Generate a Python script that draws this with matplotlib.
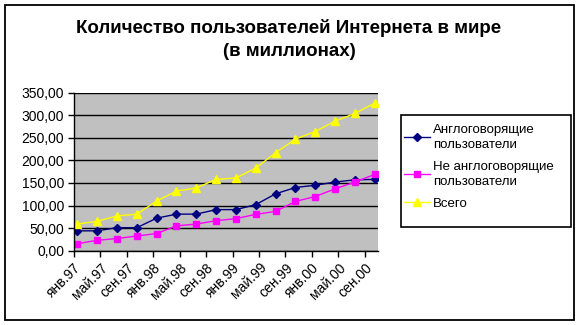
import matplotlib
matplotlib.use("Agg")
import matplotlib.pyplot as plt
from matplotlib.patches import Rectangle
from matplotlib.ticker import FuncFormatter

plt.rcParams['font.family'] = ['Liberation Sans', 'DejaVu Sans']

# quarterly observations
dates = ['1997-01', '1997-04', '1997-07', '1997-10',
         '1998-01', '1998-04', '1998-07', '1998-10',
         '1999-01', '1999-04', '1999-07', '1999-10',
         '2000-01', '2000-04', '2000-07', '2000-10']
english = [44, 44, 51, 51, 72, 81, 81, 91, 91, 102, 126, 140, 145, 152, 157, 158]
non_english = [15.5, 23, 27, 32.5, 38, 55, 59, 66.5, 71, 80.5, 87, 109, 120, 137, 152, 169]
total = [59, 65, 77, 81, 110, 132, 139, 158, 161, 183, 217, 247, 264, 287, 304, 327]

tick_dates = ['1997-01', '1997-05', '1997-09', '1998-01', '1998-05', '1998-09',
              '1999-01', '1999-05', '1999-09', '2000-01', '2000-05', '2000-09']
tick_labels = ['янв.97', 'май.97', 'сен.97', 'янв.98', 'май.98', 'сен.98',
               'янв.99', 'май.99', 'сен.99', 'янв.00', 'май.00', 'сен.00']

series_names = ['Англоговорящие\nпользователи', 'Не англоговорящие\nпользователи', 'Всего']


def month_index(d):
    # months since January 1997
    y, m = d.split('-')
    return (int(y) - 1997) * 12 + int(m) - 1


W, H = 580, 325
fig = plt.figure(figsize=(W / 100, H / 100), dpi=100)
ax = fig.add_axes([74 / W, 1 - 250.7 / H, (378 - 74) / W, (250.7 - 92.7) / H])
ax.set_facecolor('#C0C0C0')

x = [month_index(d) + 0.5 for d in dates]
ax.plot(x, english, color='#000080', marker='D', markersize=4, lw=1, label=series_names[0])
ax.plot(x, non_english, color='#FF00FF', marker='s', markersize=5, lw=1, label=series_names[1])
ax.plot(x, total, color='#FFFF00', marker='^', markersize=5.5, lw=1, label=series_names[2])

ax.set_xlim(0, 46)
ax.set_ylim(0, 350)
ax.set_yticks(range(0, 351, 50))
ax.yaxis.set_major_formatter(FuncFormatter(lambda v, p: f'{v:.2f}'.replace('.', ',')))
ax.set_xticks([month_index(d) for d in tick_dates])
ax.set_xticklabels(tick_labels, rotation=45, ha='right', va='top', rotation_mode='anchor')
ax.tick_params(axis='both', direction='out', length=4, width=1, labelsize=10, colors='black')
ax.tick_params(axis='x', pad=3)
ax.tick_params(axis='y', pad=3)

ax.grid(axis='y', color='black', lw=1)
ax.set_axisbelow(True)
for side in ['top', 'right']:
    ax.spines[side].set_visible(False)
for side in ['left', 'bottom']:
    ax.spines[side].set_linewidth(1)
    ax.spines[side].set_zorder(3)

# legend without its own frame; the box is drawn separately
leg = fig.legend(loc='upper left', bbox_to_anchor=(401 / W, 1 - 121 / H),
                 fontsize=9.5, frameon=False, handlelength=2.0, handletextpad=0.25,
                 borderpad=0, labelspacing=0.75, borderaxespad=0.2)
for t in leg.get_texts():
    t.set_linespacing(1.35)
fig.patches.append(Rectangle((400.7 / W, 1 - 226.7 / H), 170 / W, 112 / H,
                             transform=fig.transFigure, fill=False, ec='black', lw=1.2))

fig.text(289 / W, 1 - 27.7 / H, 'Количество пользователей Интернета в мире',
         ha='center', va='center', fontsize=13.5, fontweight='bold')
fig.text(289 / W, 1 - 51.7 / H, '(в миллионах)',
         ha='center', va='center', fontsize=13.5, fontweight='bold')

fig.patches.append(Rectangle((5 / W, 1 - 320 / H), 569 / W, 315 / H, transform=fig.transFigure,
                             fill=False, ec='black', lw=1.3))

fig.savefig('out.png', dpi=100)
